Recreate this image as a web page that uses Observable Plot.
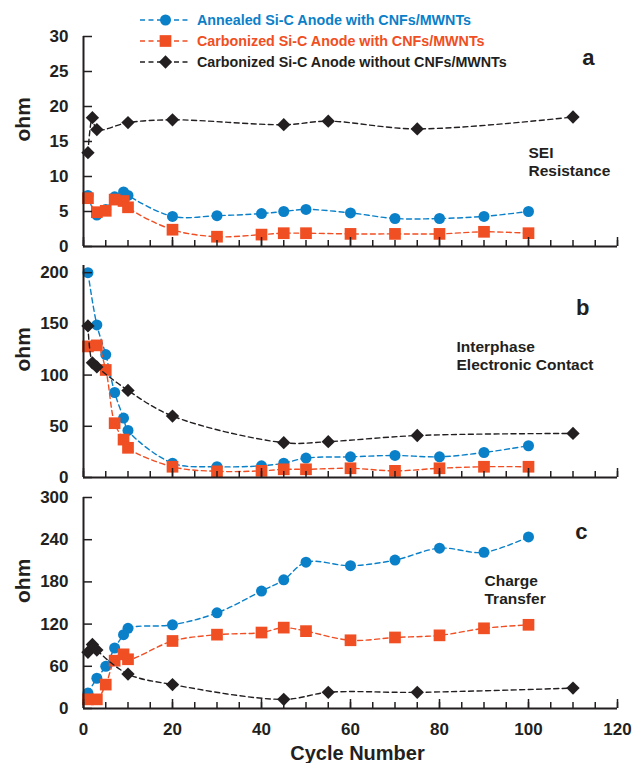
<!DOCTYPE html>
<html><head><meta charset="utf-8">
<script src="https://cdn.jsdelivr.net/npm/d3@7"></script>
<script src="https://cdn.jsdelivr.net/npm/@observablehq/plot@0.6"></script>
<style>
body{margin:0;background:#fff;}
#wrap{position:relative;width:633px;height:763px;}
#wrap > svg{display:block;}
</style></head><body><div id="wrap"></div>
<script>
const seriesNames = ["Annealed Si-C Anode with CNFs/MWNTs","Carbonized Si-C Anode with CNFs/MWNTs","Carbonized Si-C Anode without CNFs/MWNTs"];
const colors = ["#0a80c9","#f04e23","#231f20"];
const symbols = ["circle","square","diamond2"];
const radii = [5.5, 6.6, 6];
const cyclesWith = [1,3,5,7,9,10,20,30,40,45,50,60,70,80,90,100];
const cyclesWithout = [1,2,3,10,20,45,55,75,110];
const seiAnnealed = [7.3,4.5,5.3,7.1,7.8,7.3,4.3,4.4,4.7,5.0,5.3,4.8,4.0,4.0,4.3,5.0];
const seiCarbonized = [6.9,4.9,5.1,6.7,6.5,5.6,2.4,1.4,1.7,1.9,1.9,1.8,1.8,1.8,2.1,1.9];
const seiWithout = [13.4,18.4,16.7,17.7,18.1,17.4,17.9,16.8,18.5];
const ecAnnealed = [200,149,120,83,58,46,14,10.5,11.4,14,19,20.2,21.5,20.2,24.4,31];
const ecCarbonized = [128,129,105,53,37,29,10.5,6,6.5,8,8,9,6.5,9,10.5,10.5];
const ecWithout = [148,112,108,85,60,34,35,41,43];
const ctAnnealed = [22,43,60,86,105,114,119,136,167,183,208,203,211,228,222,244];
const ctCarbonized = [13,13,34,68,77,70,96,105,108,115,110,97,101,104,114,119];
const ctWithout = [80,91,83,49,34,13,23,23,29];
const minorTicks = d3.range(0, 121, 5);
const majorTicks = [0,20,40,60,80,100,120];
const ticksA = [0,5,10,15,20,25,30];
const ticksB = [0,50,100,150,200];
const ticksC = [0,60,120,180,240,300];

const FONT = "Liberation Sans, Arial, Helvetica, sans-serif";
const INK = "#231f20";

function panel(o) {
  const sets = [
    {x: cyclesWith, y: o.ys[0]},
    {x: cyclesWith, y: o.ys[1]},
    {x: cyclesWithout, y: o.ys[2]}
  ];
  const marks = [];
  sets.forEach((s, i) => {
    const d = s.x.map((x, j) => ({x, y: s.y[j]}));
    marks.push(Plot.line(d, {x: "x", y: "y", stroke: colors[i], strokeWidth: 1.4, strokeDasharray: "5,3.5", curve: "catmull-rom"}));
    marks.push(Plot.dot(d, {x: "x", y: "y", symbol: symbols[i], fill: colors[i], r: radii[i], stroke: "none"}));
  });
  marks.push(Plot.ruleY([0], {stroke: INK, strokeWidth: 2}));
  marks.push(Plot.ruleX([0], {stroke: INK, strokeWidth: 2}));
  marks.push(Plot.axisX(minorTicks, {tickSize: 6, dy: -6, tickFormat: () => "", label: null, strokeWidth: 1.5}));
  marks.push(Plot.axisX(majorTicks, {tickSize: 9, dy: -9, tickFormat: () => "", label: null, strokeWidth: 1.5}));
  marks.push(Plot.axisY(o.yTicks, {tickSize: 9, dx: 9, tickFormat: () => "", label: null, strokeWidth: 1.5}));
  marks.push(Plot.axisY(o.yTicks, {tickSize: 0, tickPadding: 15, label: null, fontSize: 17, fontWeight: "bold"}));
  if (o.xLabels) {
    marks.push(Plot.axisX(majorTicks, {tickSize: 0, tickPadding: 14, label: null, fontSize: 17, fontWeight: "bold"}));
    marks.push(Plot.text(["Cycle Number"], {frameAnchor: "bottom", dy: 37, dx: 7, lineAnchor: "top", fontSize: 20, fontWeight: "bold", fill: INK}));
  }
  marks.push(Plot.text(["ohm"], {frameAnchor: "left", dx: -60, rotate: -90, fontSize: 21, fontWeight: "bold", fill: INK}));
  marks.push(Plot.text([o.letter], {frameAnchor: "top-right", dx: o.letterDx, dy: o.letterDy, fontSize: 22, fontWeight: "bold", fill: INK}));
  marks.push(Plot.text([o.note], {frameAnchor: "top-right", dx: o.noteDx, dy: o.noteDy, textAnchor: "start", lineAnchor: "top", lineHeight: 1.15, fontSize: 15.5, fontWeight: "bold", fill: INK}));
  return Plot.plot({
    width: 633, height: o.height,
    marginLeft: 83, marginRight: 16, marginTop: o.marginTop, marginBottom: o.marginBottom,
    x: {domain: [0, 120], label: null},
    y: {domain: o.yDomain, label: null},
    style: {fontFamily: FONT, fontWeight: "bold", fontSize: "17px", color: INK, background: "white", overflow: "visible"},
    marks
  });
}

const wrap = document.getElementById("wrap");
wrap.appendChild(panel({height: 250, marginTop: 36, marginBottom: 4, yDomain: [0, 30], yTicks: ticksA,
  ys: [seiAnnealed, seiCarbonized, seiWithout], letter: "a", letterDx: -23, letterDy: 13,
  note: "SEI\nResistance", noteDx: -89, noteDy: 109}));
wrap.appendChild(panel({height: 230, marginTop: 15, marginBottom: 3, yDomain: [0, 207], yTicks: ticksB,
  ys: [ecAnnealed, ecCarbonized, ecWithout], letter: "b", letterDx: -28, letterDy: 34,
  note: "Interphase\nElectronic Contact", noteDx: -161, noteDy: 74}));
wrap.appendChild(panel({height: 283, marginTop: 17, marginBottom: 55, yDomain: [0, 300], yTicks: ticksC,
  ys: [ctAnnealed, ctCarbonized, ctWithout], letter: "c", letterDx: -30, letterDy: 26,
  note: "Charge\nTransfer", noteDx: -133, noteDy: 76, xLabels: true}));

// legend overlay
const leg = d3.select(wrap).append("svg")
  .attr("width", 633).attr("height", 75)
  .style("position", "absolute").style("left", "0px").style("top", "0px")
  .style("overflow", "visible");
seriesNames.forEach((name, i) => {
  const cy = 20 + i * 21;
  const g = leg.append("g");
  g.append("line").attr("x1", 140).attr("x2", 191).attr("y1", cy).attr("y2", cy)
    .attr("stroke", colors[i]).attr("stroke-width", 1.4).attr("stroke-dasharray", "5,3.5");
  const typ = [d3.symbolCircle, d3.symbolSquare, d3.symbolDiamond2][i];
  g.append("path").attr("d", d3.symbol().type(typ).size(Math.PI * radii[i] * radii[i])())
    .attr("transform", `translate(165.5,${cy})`).attr("fill", colors[i]);
  g.append("text").attr("x", 197).attr("y", cy).attr("dy", "0.36em")
    .attr("fill", colors[i]).attr("font-family", FONT).attr("font-weight", "bold")
    .attr("font-size", 14.3).text(name);
});
</script></body></html>
